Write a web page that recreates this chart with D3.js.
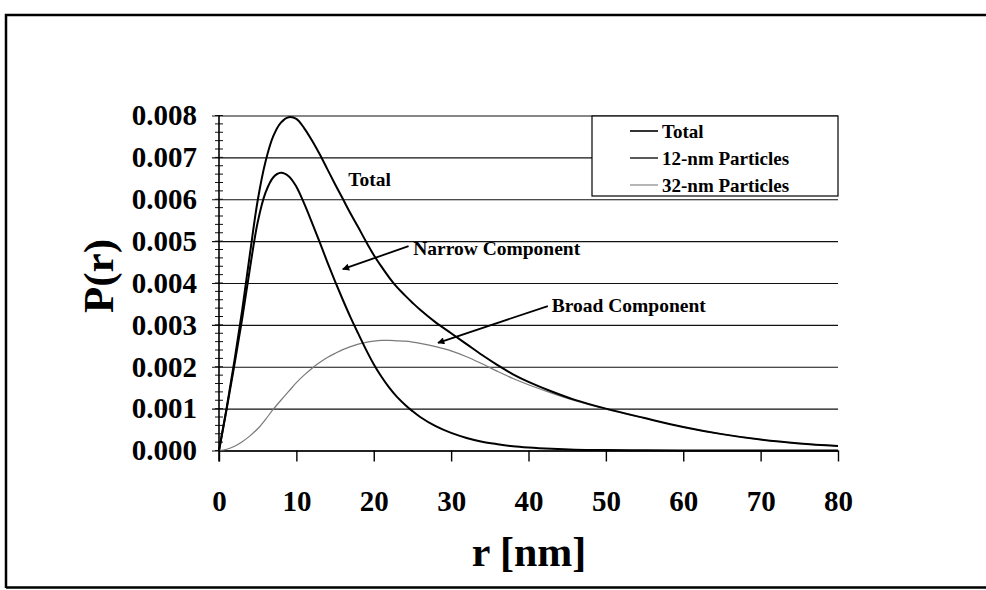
<!DOCTYPE html>
<html>
<head>
<meta charset="utf-8">
<script src="https://cdn.jsdelivr.net/npm/d3@7"></script>
<style>
  body { margin: 0; background: #fff; }
  svg { display: block; }
  text { font-family: "Liberation Serif", "Times New Roman", serif; font-weight: bold; fill: #000; }
</style>
</head>
<body>
<svg id="chart" width="986" height="590"></svg>
<script>
// Pore-radius distribution P(r) and its two components
const radius = [0,1,2,3,4,5,6,7,8,9,10,11,12,13,14,15,16,17,18,19,20,21,22,23,24,25,26,
                28,30,32,34,36,38,40,43,46,50,55,60,65,70,75,80];

const totalP = [0,0.00103,0.00215,0.00336,0.0047,0.00597,0.00689,0.0075,0.00783,0.00796,0.00792,
                0.0077,0.00741,0.00708,0.00672,0.00636,0.00601,0.00566,0.00533,0.00499,0.00467,
                0.00439,0.00413,0.0039,0.00371,0.00353,0.00336,
                0.00306,0.0028,0.00254,0.00228,0.00204,0.00182,0.00164,0.00141,0.00121,
                0.001,0.000775,0.000562,0.000391,0.00026,0.00017,0.00011];

const narrowP = [0,0.001,0.00205,0.00315,0.00435,0.00545,0.00615,0.00652,0.00663,0.00655,0.0063,
                 0.0059,0.00545,0.00498,0.0045,0.00404,0.0036,0.00318,0.00279,0.00241,0.00206,
                 0.00176,0.0015,0.00128,0.0011,0.00094,0.0008,
                 0.00058,0.00042,0.0003,0.00021,0.00015,0.0001,0.00007,0.00004,0.00002,
                 0.00001,0.000005,0.000002,0.000001,0,0,0];

const broadP = [0,0.00003,0.0001,0.00021,0.00035,0.00052,0.00074,0.00098,0.0012,0.00141,0.00162,
                0.0018,0.00196,0.0021,0.00222,0.00232,0.00241,0.00248,0.00254,0.00258,0.00261,
                0.00263,0.00263,0.00262,0.00261,0.00259,0.00256,
                0.00248,0.00238,0.00224,0.00207,0.00189,0.00172,0.00157,0.00137,0.00119,
                0.00099,0.00077,0.00056,0.00039,0.00026,0.00017,0.00011];

const xTicks = [0,10,20,30,40,50,60,70,80];
const yTicks = [0,0.001,0.002,0.003,0.004,0.005,0.006,0.007,0.008];
const seriesNames = ["Total","12-nm Particles","32-nm Particles"];

const svg = d3.select("#chart");

// outer frame
svg.append("path")
  .attr("d", "M6,588 L6,15 L990,15 M6,587.5 L990,587.5")
  .attr("fill", "none").attr("stroke", "#000").attr("stroke-width", 2.5);

const x = d3.scaleLinear().domain([0, 80]).range([219, 838]);
const y = d3.scaleLinear().domain([0, 0.008]).range([450.5, 115.5]);

// horizontal gridlines with outside ticks and labels
const yAxis = svg.append("g")
  .attr("transform", `translate(${x(0)},0)`)
  .call(d3.axisLeft(y).tickValues(yTicks).tickSizeInner(-(x(80) - x(0))).tickSizeOuter(0)
        .tickPadding(22).tickFormat(d3.format(".3f")));
yAxis.select(".domain").remove();
yAxis.selectAll(".tick line").attr("x1", -7).attr("stroke", "#111").attr("stroke-width", 1.1);
yAxis.selectAll(".tick text").attr("font-size", 29).attr("font-family", null);

// minor ticks across the value axis
const minorVals = d3.range(0, 41).map(i => i * 0.0002);
svg.append("g").selectAll("line").data(minorVals).join("line")
  .attr("x1", x(0) - 4).attr("x2", x(0) + 4)
  .attr("y1", d => y(d)).attr("y2", d => y(d))
  .attr("stroke", "#111").attr("stroke-width", 1);

// vertical axis line
svg.append("line")
  .attr("x1", x(0)).attr("x2", x(0)).attr("y1", y(0.008)).attr("y2", y(0) + 11)
  .attr("stroke", "#000").attr("stroke-width", 1.6);

// horizontal axis
const xAxis = svg.append("g")
  .attr("transform", `translate(0,${y(0)})`)
  .call(d3.axisBottom(x).tickValues(xTicks).tickSizeInner(11).tickSizeOuter(0).tickPadding(29));
xAxis.select(".domain").attr("stroke", "#000").attr("stroke-width", 1.4);
xAxis.selectAll(".tick line").attr("stroke", "#000").attr("stroke-width", 1.4);
xAxis.selectAll(".tick text").attr("font-size", 29).attr("font-family", null);

// curves
const line = vals => d3.line()
  .x((d, i) => x(radius[i]))
  .y(d => y(d))
  .curve(d3.curveCatmullRom.alpha(0.5))(vals);

svg.append("path").attr("d", line(broadP))
  .attr("fill", "none").attr("stroke", "#7a7a7a").attr("stroke-width", 1.2);
svg.append("path").attr("d", line(narrowP))
  .attr("fill", "none").attr("stroke", "#000").attr("stroke-width", 2);
svg.append("path").attr("d", line(totalP))
  .attr("fill", "none").attr("stroke", "#000").attr("stroke-width", 2);

// annotations
svg.append("defs").append("marker")
  .attr("id", "head").attr("viewBox", "0 0 10 10").attr("refX", 9).attr("refY", 5)
  .attr("markerWidth", 11).attr("markerHeight", 7).attr("markerUnits", "userSpaceOnUse")
  .attr("orient", "auto")
  .append("path").attr("d", "M0,0 L10,5 L0,10 Z").attr("fill", "#000");

const notes = [
  { text: "Total", r: 16.7, v: 0.00631 },
  { text: "Narrow Component", r: 25.1, v: 0.00468, from: [24.5, 0.00488], to: [16.0, 0.00433] },
  { text: "Broad Component", r: 43.0, v: 0.0033, from: [42.5, 0.00345], to: [28.3, 0.00257] }
];
notes.forEach(n => {
  svg.append("text").attr("x", x(n.r)).attr("y", y(n.v)).attr("font-size", 19.5).text(n.text);
  if (n.from) {
    svg.append("line")
      .attr("x1", x(n.from[0])).attr("y1", y(n.from[1]))
      .attr("x2", x(n.to[0])).attr("y2", y(n.to[1]))
      .attr("stroke", "#000").attr("stroke-width", 1.8)
      .attr("marker-end", "url(#head)");
  }
});

// legend
const legend = svg.append("g");
legend.append("rect").attr("x", 592).attr("y", 116).attr("width", 246).attr("height", 80)
  .attr("fill", "#fff").attr("stroke", "#000").attr("stroke-width", 1.2);
const legendStyle = [
  { stroke: "#000", width: 1.6 },
  { stroke: "#000", width: 1.3 },
  { stroke: "#7a7a7a", width: 1.1 }
];
seriesNames.forEach((name, i) => {
  const cy = 131 + i * 27;
  legend.append("line").attr("x1", 630).attr("x2", 658).attr("y1", cy).attr("y2", cy)
    .attr("stroke", legendStyle[i].stroke).attr("stroke-width", legendStyle[i].width);
  legend.append("text").attr("x", 662).attr("y", cy + 6.5).attr("font-size", 19).text(name);
});

// axis titles
svg.append("text").attr("transform", "translate(113,276) rotate(-90)")
  .attr("text-anchor", "middle").attr("font-size", 43).text("P(r)");
svg.append("text").attr("x", 529).attr("y", 566)
  .attr("text-anchor", "middle").attr("font-size", 42).text("r [nm]");
</script>
</body>
</html>
